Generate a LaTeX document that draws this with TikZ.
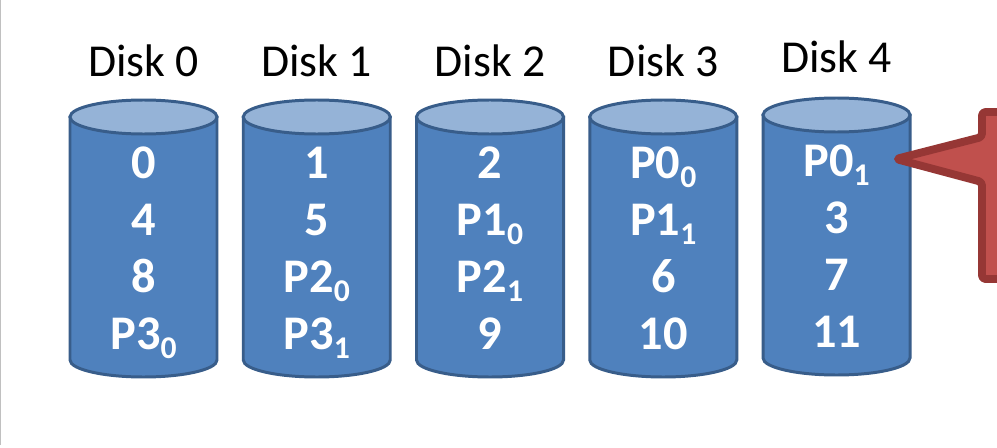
\documentclass[tikz,border=0pt]{standalone}
\usepackage{fontspec}
\setmainfont{Carlito}
\definecolor{diskbody}{RGB}{79,129,189}
\definecolor{disktop}{RGB}{149,179,215}
\definecolor{diskline}{RGB}{56,93,138}
\definecolor{calloutfill}{RGB}{192,80,77}
\definecolor{calloutline}{RGB}{150,55,53}
\definecolor{frame}{RGB}{192,192,192}
\newcommand{\lowsub}[1]{\raisebox{-0.2em}{\fontsize{18}{20}\selectfont #1}}
\tikzset{
  body/.style={fill=diskbody, draw=diskline, line width=1.7pt},
  lid/.style={fill=disktop, draw=diskline, line width=1.7pt},
  disklabel/.style={anchor=base, inner sep=0pt, text=black, font=\fontsize{26}{30}\selectfont},
  cell/.style={anchor=base, inner sep=0pt, text=white, font=\fontsize{27.5}{30}\selectfont\bfseries},
  warn/.style={fill=calloutfill, draw=calloutline, line width=4.5pt, line join=round, rounded corners=2pt},
}

\begin{document}
\begin{tikzpicture}[x=0.02cm, y=0.02cm]
        \useasboundingbox (0,0) rectangle (997,447);
        \clip (0,0) rectangle (997,447);
        \fill[white] (0,0) rectangle (997,447);
        \draw[frame, line width=0.9pt] (0.5,2) -- (0.5,447);
        % ===================== disk 0 =====================
        \node[disklabel] (lab0) at (143.5,370) {Disk 0};
        \draw[body] (70,330) -- (70,87) arc[start angle=180, end angle=360, x radius=73.5, y radius=17] -- (217,330) -- cycle;
        \draw[lid] (143.5,330) ellipse[x radius=73.5, y radius=17];
        \node[cell] (d0a) at (143.5,269) {0};
        \node[cell] (d0b) at (143.5,212) {4};
        \node[cell] (d0c) at (143.5,155) {8};
        \node[cell] (d0d) at (143.5,98)  {P3\lowsub{0}};
        % ===================== disk 1 =====================
        \node[disklabel] (lab1) at (316.75,370) {Disk 1};
        \draw[body] (243.25,330) -- (243.25,87) arc[start angle=180, end angle=360, x radius=73.5, y radius=17] -- (390.25,330) -- cycle;
        \draw[lid] (316.75,330) ellipse[x radius=73.5, y radius=17];
        \node[cell] (d1a) at (316.75,269) {1};
        \node[cell] (d1b) at (316.75,212) {5};
        \node[cell] (d1c) at (316.75,155) {P2\lowsub{0}};
        \node[cell] (d1d) at (316.75,98)  {P3\lowsub{1}};
        % ===================== disk 2 =====================
        \node[disklabel] (lab2) at (490,370) {Disk 2};
        \draw[body] (416.5,330) -- (416.5,87) arc[start angle=180, end angle=360, x radius=73.5, y radius=17] -- (563.5,330) -- cycle;
        \draw[lid] (490,330) ellipse[x radius=73.5, y radius=17];
        \node[cell] (d2a) at (490,269) {2};
        \node[cell] (d2b) at (490,212) {P1\lowsub{0}};
        \node[cell] (d2c) at (490,155) {P2\lowsub{1}};
        \node[cell] (d2d) at (490,98)  {9};
        % ===================== disk 3 =====================
        \node[disklabel] (lab3) at (663.25,370) {Disk 3};
        \draw[body] (589.75,330) -- (589.75,87) arc[start angle=180, end angle=360, x radius=73.5, y radius=17] -- (736.75,330) -- cycle;
        \draw[lid] (663.25,330) ellipse[x radius=73.5, y radius=17];
        \node[cell] (d3a) at (663.25,269) {P0\lowsub{0}};
        \node[cell] (d3b) at (663.25,212) {P1\lowsub{1}};
        \node[cell] (d3c) at (663.25,155) {6};
        \node[cell] (d3d) at (663.25,98)  {10};
        % ===================== disk 4 =====================
        \node[disklabel] (lab4) at (836.5,374) {Disk 4};
        \draw[body] (763,332) -- (763,89) arc[start angle=180, end angle=360, x radius=73.5, y radius=17] -- (910,332) -- cycle;
        \draw[lid] (836.5,332) ellipse[x radius=73.5, y radius=17];
        \node[cell] (d4a) at (836.5,271) {P0\lowsub{1}};
        \node[cell] (d4b) at (836.5,214) {3};
        \node[cell] (d4c) at (836.5,157) {7};
        \node[cell] (d4d) at (836.5,100) {11};
        % ===================== callout =====================
        \coordinate (tip) at (896,288);
        \draw[warn] (tip) -- (982,310) -- (982,335) -- (1010,335) -- (1010,168) -- (982,168) -- (982,265) -- cycle;
\end{tikzpicture}
\end{document}
